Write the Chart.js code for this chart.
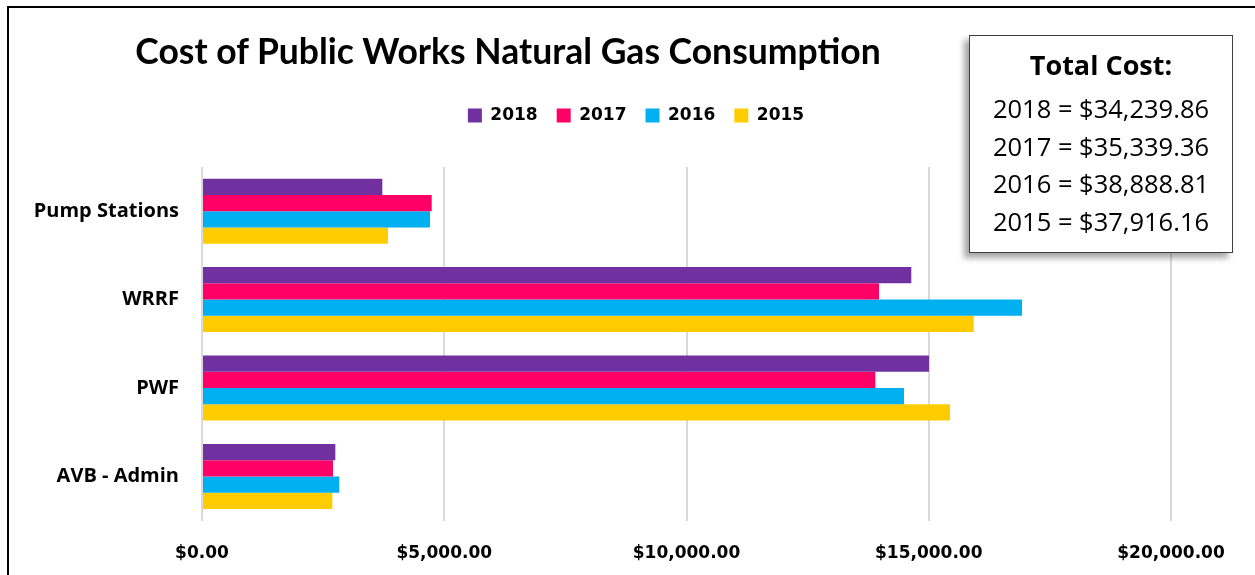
<!DOCTYPE html>
<html>
<head>
<meta charset="utf-8">
<style>
    body { margin: 0; background: #fff; width: 1255px; height: 575px; overflow: hidden; position: relative; font-family: Lato, "Open Sans", sans-serif; }
    #frame { position: absolute; left: 7px; top: 6px; width: 1260px; height: 580px; border-left: 2px solid #000; border-top: 2px solid #000; }
    #myChart { position: absolute; left: 0; top: 0; }
    #title { position: absolute; left: 0; width: 1016px; top: 30px; line-height: 42px; text-align: center; font-weight: bold; font-size: 35.5px; color: #000; white-space: nowrap; }
    #totals { position: absolute; left: 969px; top: 35px; width: 262px; height: 216px; background: #fff; border: 1px solid #404040;
              box-shadow: -5px 5px 6px rgba(0,0,0,0.35); text-align: center; color: #000; font-family: "Open Sans", sans-serif; }
    #totals .head { font-weight: bold; font-size: 27px; line-height: 36px; margin-top: 11px; margin-bottom: 7px; }
    #totals .row { font-size: 25.5px; line-height: 37.5px; }
</style>
</head>
<body>
<div id="frame"></div>
<canvas id="myChart" width="1255" height="588"></canvas>
<div id="title">Cost of Public Works Natural Gas Consumption</div>
<div id="totals">
    <div class="head">Total Cost:</div>
    <div id="totalRows"></div>
</div>

<script src="https://cdn.jsdelivr.net/npm/chart.js@4.4.1/dist/chart.umd.min.js"></script>
<script>
    const categories = ["Pump Stations", "WRRF", "PWF", "AVB - Admin"];
    const years = ["2018", "2017", "2016", "2015"];
    const cost2018 = [3722, 14640, 15005, 2752];
    const cost2017 = [4741, 13973, 13897, 2704];
    const cost2016 = [4706, 16925, 14489, 2834];
    const cost2015 = [3839, 15928, 15439, 2690];
    const totalCost = ["$34,239.86", "$35,339.36", "$38,888.81", "$37,916.16"];
    const xTicks = [0, 5000, 10000, 15000, 20000];

    const colors = ['#7030A0', '#FF0066', '#00B0F0', '#FFCC00'];
    const series = [cost2018, cost2017, cost2016, cost2015];

    document.getElementById('totalRows').innerHTML =
        years.map((y, i) => '<div class="row">' + y + ' = ' + totalCost[i] + '</div>').join('');

    // legend: extra space below it, and centred a bit right of the canvas middle
    const legendTweak = {
        id: 'legendTweak',
        beforeInit(chart) {
            const fit = chart.legend.fit;
            chart.legend.fit = function () {
                fit.bind(chart.legend)();
                this.height += 33;
            };
        },
        afterLayout(chart) {
            chart.legend.left = 101;
        }
    };

    const ctx = document.getElementById('myChart').getContext('2d');
    const myChart = new Chart(ctx, {
        type: 'bar',
        data: {
            labels: categories,
            datasets: years.map((y, i) => ({
                label: y,
                data: series[i],
                backgroundColor: colors[i],
                borderWidth: 0,
                categoryPercentage: 0.735,
                barPercentage: 1.0
            }))
        },
        plugins: [legendTweak],
        options: {
            indexAxis: 'y',
            responsive: false,
            animation: false,
            layout: { padding: { left: 8, right: 84, top: 88, bottom: 1 } },
            plugins: {
                title: { display: false },
                tooltip: { enabled: false },
                legend: {
                    position: 'top',
                    labels: {
                        boxWidth: 14,
                        boxHeight: 14,
                        padding: 19,
                        color: '#000',
                        font: { family: 'DejaVu Sans', size: 17, weight: 'bold' }
                    }
                }
            },
            scales: {
                x: {
                    min: 0,
                    max: 20000,
                    afterBuildTicks(scale) {
                        scale.ticks = xTicks.map(v => ({ value: v }));
                    },
                    grid: { color: '#d9d9d9', lineWidth: 2, drawTicks: false },
                    border: { display: false },
                    ticks: {
                        padding: 23,
                        color: '#000',
                        font: { family: 'DejaVu Sans', size: 17, weight: 'bold' },
                        callback: v => '$' + v.toLocaleString('en-US', { minimumFractionDigits: 2, maximumFractionDigits: 2 })
                    }
                },
                y: {
                    afterFit(scale) { scale.width = 194; },
                    grid: { display: false, drawTicks: false },
                    border: { display: false },
                    ticks: {
                        padding: 23,
                        color: '#000',
                        font: { family: 'Open Sans', size: 20, weight: 'bold' }
                    }
                }
            }
        }
    });
</script>
</body>
</html>
